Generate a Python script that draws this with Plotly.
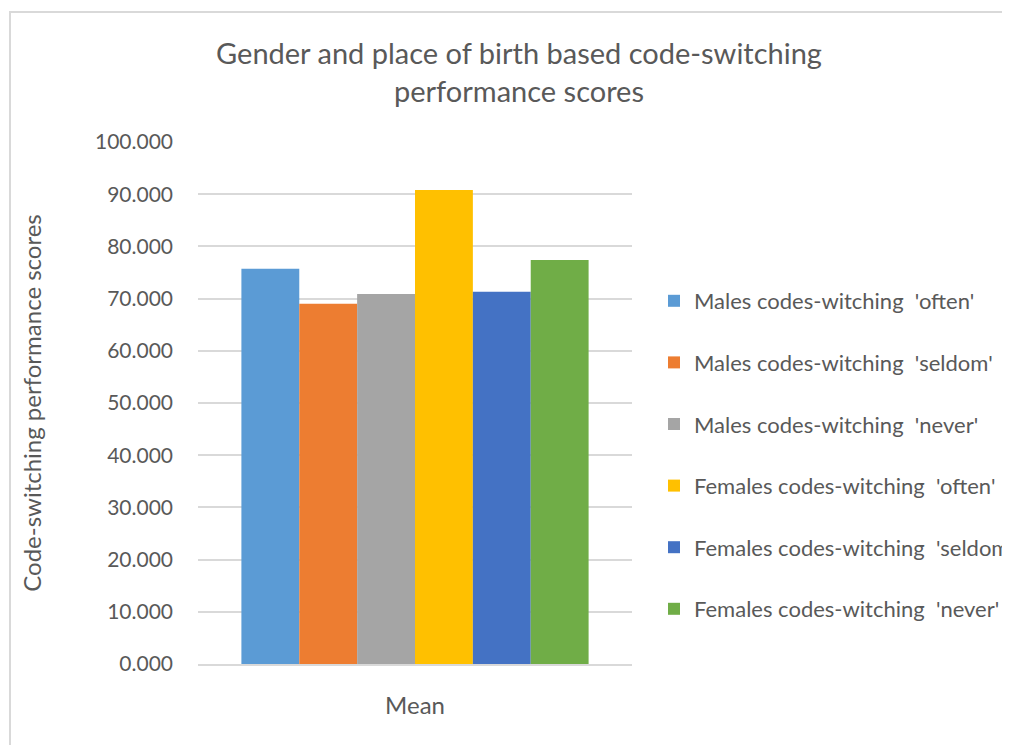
import plotly.graph_objects as go

categories = ["Mean"]
series_names = [
    "Males codes-witching  'often'",
    "Males codes-witching  'seldom'",
    "Males codes-witching  'never'",
    "Females codes-witching  'often'",
    "Females codes-witching  'seldom'",
    "Females codes-witching  'never'",
]
series_values = [75.7, 69.0, 70.9, 90.8, 71.3, 77.4]
colors = ["#5B9BD5", "#ED7D31", "#A5A5A5", "#FFC000", "#4472C4", "#70AD47"]
y_ticks = [0, 10, 20, 30, 40, 50, 60, 70, 80, 90, 100]
y_ticklabels = [f"{v:.3f}" for v in y_ticks]

FONT = "Lato"
TXT = "#595959"

fig = go.Figure()
for i, (name, val, col) in enumerate(zip(series_names, series_values, colors)):
    fig.add_trace(go.Bar(
        x=categories, y=[val], name=name, marker_color=col,
        marker_line_width=0, legendgroup=f"g{i}",
    ))

# figure sits at an 8px page offset
W, H = 1002, 737
L, R, T, B = 190, 624, 134, 656

fig.update_layout(
    width=W, height=H,
    margin=dict(l=L, r=W - R, t=T, b=H - B, autoexpand=False),
    paper_bgcolor="white", plot_bgcolor="white",
    barmode="group", bargap=0.2, bargroupgap=0,
    font=dict(family=FONT, color=TXT, size=21),
    title=dict(
        text="Gender and place of birth based code-switching<br>performance scores",
        x=511 / W, xanchor="center", xref="container",
        y=1 - 56 / H, yanchor="top", yref="container",
        font=dict(family=FONT, size=29, color=TXT),
    ),
    legend=dict(
        x=(646 - L) / (R - L), xanchor="left",
        y=(B - 272) / (B - T), yanchor="top",
        font=dict(family=FONT, size=22, color=TXT),
        tracegroupgap=30, bgcolor="rgba(0,0,0,0)",
    ),
    showlegend=True,
)
fig.update_xaxes(
    showline=True, linecolor="#d9d9d9", linewidth=1.5,
    showgrid=False, ticks="", ticklabelstandoff=19,
    tickfont=dict(family=FONT, size=24, color=TXT),
)
fig.update_yaxes(
    range=[0, 100], tickvals=y_ticks, ticktext=y_ticklabels,
    showgrid=True, gridcolor="#d9d9d9", gridwidth=1.5,
    zeroline=False, showline=False, ticks="", ticklabelstandoff=24,
    tickfont=dict(family=FONT, size=21, color=TXT),
    title=dict(text="Code-switching performance scores", standoff=46,
               font=dict(family=FONT, size=24, color=TXT)),
)
fig.add_shape(
    type="rect", xref="paper", yref="paper",
    x0=(2 - L) / (R - L), x1=2.0,
    y0=-0.5, y1=(B - 4) / (B - T),
    line=dict(color="#d9d9d9", width=2), fillcolor="rgba(0,0,0,0)", layer="below",
)
fig.write_html("out.html")
